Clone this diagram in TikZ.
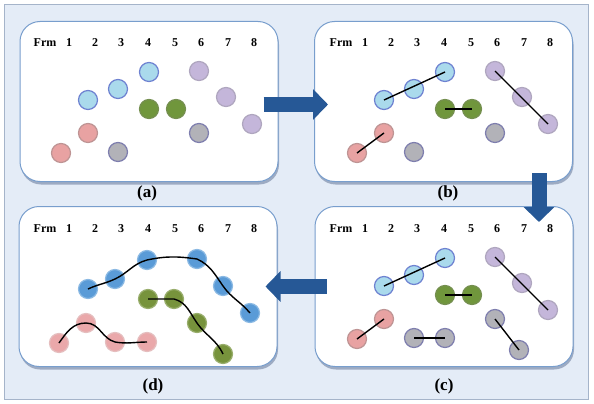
\documentclass[tikz,border=0pt]{standalone}
\usepackage{fontspec}
\setmainfont{Liberation Serif}
\usetikzlibrary{arrows.meta,shadows}

\definecolor{bgblue}{RGB}{228,236,247}
\definecolor{bgline}{RGB}{165,180,202}
\definecolor{panelline}{RGB}{120,158,205}
\definecolor{shadowgray}{RGB}{140,155,182}
\definecolor{arrowblue}{RGB}{38,88,150}
\definecolor{lblue}{RGB}{170,218,236}
\definecolor{lpink}{RGB}{232,162,162}
\definecolor{lgray}{RGB}{178,178,184}
\definecolor{lpurple}{RGB}{196,182,218}
\definecolor{lgreen}{RGB}{112,150,60}
\definecolor{dblue}{RGB}{90,155,215}
\definecolor{dpink}{RGB}{234,168,170}
\definecolor{dgreen}{RGB}{119,147,60}

\begin{document}
\begin{tikzpicture}[x=1pt, y=-1pt,
    panel/.style={draw=panelline, line width=1pt, fill=white, rounded corners=20pt,
      minimum width=258pt, minimum height=160pt,
      drop shadow={shadow xshift=1pt, shadow yshift=-3pt, fill=shadowgray, opacity=0.8}},
    dot/.style={circle, line width=1.2pt, minimum size=19pt, inner sep=0pt},
    bluedot/.style={dot, fill=lblue, draw=lblue!60!blue!70!gray},
    pinkdot/.style={dot, fill=lpink, draw=lpink!60!gray},
    graydot/.style={dot, fill=lgray, draw=lgray!70!blue!60!gray},
    purpledot/.style={dot, fill=lpurple, draw=lpurple!70!gray},
    greendot/.style={dot, fill=lgreen, draw=lgreen!70!gray},
    dbluedot/.style={dot, fill=dblue, draw=dblue!70!white},
    dpinkdot/.style={dot, fill=dpink, draw=dpink!85!gray!70!white},
    dgreendot/.style={dot, fill=dgreen, draw=dgreen!75!white},
    track/.style={line width=1.4pt, black},
    hdr/.style={font=\bfseries\fontsize{12}{14}\selectfont},
    panelcap/.style={font=\bfseries\fontsize{17}{20}\selectfont},
    bigarrow/.style={line width=15pt, arrowblue, -{Triangle[width=30pt,length=15pt]}}]

    \useasboundingbox (0,0) rectangle (594,404);
    \node (bg) [draw=bgline, fill=bgblue, line width=1pt, minimum width=584pt, minimum height=394pt, inner sep=0pt] at (296,202) {};

    % Panels
    \node (pa) [panel] at (149,101.5) {};
    \node (pb) [panel] at (443.5,101.5) {};
    \node (pc) [panel] at (444,286.5) {};
    \node (pd) [panel] at (148,286.5) {};

    \node (capa) [panelcap] at (147,193) {(a)};
    \node (capb) [panelcap] at (448,193) {(b)};
    \node (capc) [panelcap] at (444,386) {(c)};
    \node (capd) [panelcap] at (153,386) {(d)};

    % Frame numbers
    \foreach \dx/\dy in {0/0, 296/0, 296/186, 0/186} {
      \node[hdr] at (45+\dx,43+\dy) {Frm};
      \foreach \k/\x in {1/69, 2/95, 3/121, 4/148, 5/175, 6/201, 7/228, 8/254}
        \node[hdr] at (\x+\dx,43+\dy) {\k};
    }

    % (a) Detections
    \node (aR1) [pinkdot] at (61,153) {};
    \node (aR2) [pinkdot] at (88,133) {};
    \node (aB2) [bluedot] at (88,100) {};
    \node (aB3) [bluedot] at (118,89) {};
    \node (aY3) [graydot] at (118,152) {};
    \node (aB4) [bluedot] at (149,72) {};
    \node (aG4) [greendot] at (149,109) {};
    \node (aG5) [greendot] at (176,109) {};
    \node (aP6) [purpledot] at (199,71) {};
    \node (aY6) [graydot] at (199,133) {};
    \node (aP7) [purpledot] at (226,97) {};
    \node (aP8) [purpledot] at (252,124) {};

    % (b) Tracklets
    \begin{scope}[shift={(296,0)}]
    \node (bR1) [pinkdot] at (61,153) {};
    \node (bR2) [pinkdot] at (88,133) {};
    \node (bB2) [bluedot] at (88,100) {};
    \node (bB3) [bluedot] at (118,89) {};
    \node (bY3) [graydot] at (118,152) {};
    \node (bB4) [bluedot] at (149,72) {};
    \node (bG4) [greendot] at (149,109) {};
    \node (bG5) [greendot] at (176,109) {};
    \node (bP6) [purpledot] at (199,71) {};
    \node (bY6) [graydot] at (199,133) {};
    \node (bP7) [purpledot] at (226,97) {};
    \node (bP8) [purpledot] at (252,124) {};
    \draw[track] (bR1.center) -- (bR2.center);
    \draw[track] (bB2.center) -- (bB4.center);
    \draw[track] (bG4.center) -- (bG5.center);
    \draw[track] (bP6.center) -- (bP8.center);
    \end{scope}

    % (c) More tracklets
    \begin{scope}[shift={(296,186)}]
    \node (cR1) [pinkdot] at (61,153) {};
    \node (cR2) [pinkdot] at (88,133) {};
    \node (cB2) [bluedot] at (88,100) {};
    \node (cB3) [bluedot] at (118,89) {};
    \node (cY3) [graydot] at (118,152) {};
    \node (cY4) [graydot] at (149,152) {};
    \node (cB4) [bluedot] at (149,72) {};
    \node (cG4) [greendot] at (149,109) {};
    \node (cG5) [greendot] at (176,109) {};
    \node (cP6) [purpledot] at (199,71) {};
    \node (cY6) [graydot] at (199,133) {};
    \node (cP7) [purpledot] at (226,97) {};
    \node (cY7) [graydot] at (223,164) {};
    \node (cP8) [purpledot] at (252,124) {};
    \draw[track] (cR1.center) -- (cR2.center);
    \draw[track] (cB2.center) -- (cB4.center);
    \draw[track] (cG4.center) -- (cG5.center);
    \draw[track] (cY3.center) -- (cY4.center);
    \draw[track] (cP6.center) -- (cP8.center);
    \draw[track] (cY6.center) -- (cY7.center);
    \end{scope}

    % (d) Trajectories
    \begin{scope}[shift={(0,186)}]
    \node (dB2) [dbluedot] at (88,103) {};
    \node (dB3) [dbluedot] at (115,93) {};
    \node (dB4) [dbluedot] at (147,74) {};
    \node (dB6) [dbluedot] at (197,73) {};
    \node (dB7) [dbluedot] at (223,100) {};
    \node (dB8) [dbluedot] at (250,127) {};
    \node (dG4) [dgreendot] at (148,113) {};
    \node (dG5) [dgreendot] at (174,113) {};
    \node (dG6) [dgreendot] at (197,137) {};
    \node (dG7) [dgreendot] at (223,168) {};
    \node (dR1) [dpinkdot] at (59,157) {};
    \node (dR2) [dpinkdot] at (86,137) {};
    \node (dR3) [dpinkdot] at (115,156) {};
    \node (dR4) [dpinkdot] at (147,156) {};
    \draw[track] (dB2.center) to[out=25,in=205] (dB3.center) to[out=25,in=195] (dB4.center)
      to[out=12,in=172] (dB6.center) to[out=-25,in=125] (dB7.center) to[out=-55,in=130] (dB8.center);
    \draw[track] (dG4.center) to[out=0,in=180] (dG5.center) to[out=-15,in=125] (dG6.center)
      to[out=-55,in=115] (dG7.center);
    \draw[track] (dR1.center) to[out=55,in=180] (dR2.center) to[out=0,in=165] (dR3.center)
      to[out=-10,in=180] (dR4.center);
    \end{scope}

    % Arrows between panels
    \draw[bigarrow] ([xshift=-15pt,yshift=-3pt]pa.east) -- ([xshift=14pt,yshift=-3pt]pb.west);
    \draw[bigarrow] ([xshift=95.5pt,yshift=9pt]pb.south) -- ([xshift=95pt,yshift=-16pt]pc.north);
    \draw[bigarrow] ([xshift=12pt]pc.west) -- ([xshift=-12pt]pd.east);
\end{tikzpicture}
\end{document}
